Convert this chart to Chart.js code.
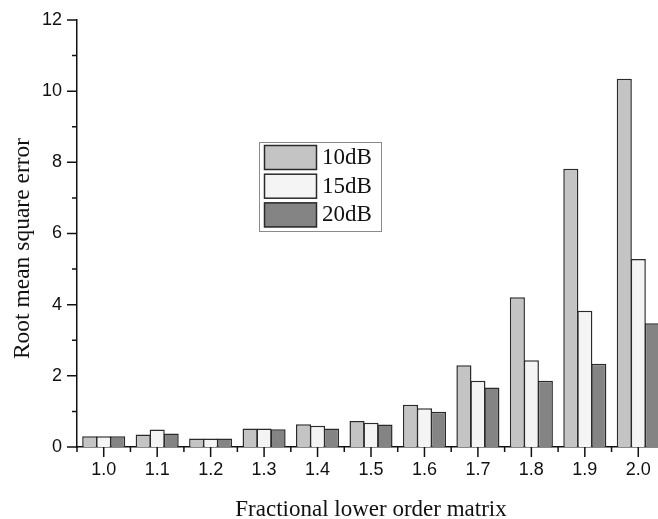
<!DOCTYPE html>
<html>
<head>
<meta charset="utf-8">
<script src="https://cdn.jsdelivr.net/npm/chart.js@4.4.1/dist/chart.umd.min.js"></script>
<style>
  html, body { margin: 0; padding: 0; background: #fff; overflow: hidden; width: 658px; height: 519px; }
  #wrap { position: relative; width: 672px; height: 519px; }
</style>
</head>
<body>
<div id="wrap"><canvas id="c" width="672" height="519"></canvas></div>
<script>
// Fractional lower order values and RMSE per SNR level
const categories = ['1.0', '1.1', '1.2', '1.3', '1.4', '1.5', '1.6', '1.7', '1.8', '1.9', '2.0'];
const seriesNames = ['10dB', '15dB', '20dB'];
const rmse10dB = [0.30, 0.35, 0.24, 0.52, 0.64, 0.73, 1.19, 2.30, 4.21, 7.82, 10.35];
const rmse15dB = [0.30, 0.49, 0.24, 0.52, 0.60, 0.68, 1.09, 1.86, 2.44, 3.83, 5.28];
const rmse20dB = [0.30, 0.38, 0.24, 0.50, 0.52, 0.63, 0.99, 1.67, 1.86, 2.34, 3.48];
const yTickValues = [0, 2, 4, 6, 8, 10, 12];

const fills = ['#c4c4c4', '#f4f4f4', '#848484'];
const edge = '#2a2a2a';
const serifFont = '"Liberation Serif", "Times New Roman", serif';
const sansFont = '"Liberation Sans", Arial, sans-serif';

// Outward tick marks: majors on labelled values / category centres, minors between
const axisTicks = {
  id: 'axisTicks',
  afterDraw(chart) {
    const { ctx, chartArea: a, scales: { x, y } } = chart;
    ctx.save();
    ctx.strokeStyle = '#111';
    ctx.lineWidth = 1.5;
    ctx.beginPath();
    for (let v = y.min; v <= y.max; v++) {
      const py = y.getPixelForValue(v);
      const len = yTickValues.includes(v) ? 10 : 5;
      ctx.moveTo(a.left, py);
      ctx.lineTo(a.left - len, py);
    }
    for (let i = 0; i < categories.length; i++) {
      const px = x.getPixelForValue(i);
      ctx.moveTo(px, a.bottom);
      ctx.lineTo(px, a.bottom + 10);
    }
    for (let i = 0; i <= categories.length; i++) {
      const px = x.getPixelForValue(i - 0.5);
      ctx.moveTo(px, a.bottom);
      ctx.lineTo(px, a.bottom + 5);
    }
    ctx.stroke();
    ctx.restore();
  }
};

// Vertical axis title
const yTitle = {
  id: 'yTitle',
  afterDraw(chart) {
    const { ctx, chartArea: a } = chart;
    ctx.save();
    ctx.translate(23, (a.top + a.bottom) / 2 + 15);
    ctx.rotate(-Math.PI / 2);
    ctx.font = '23.5px ' + serifFont;
    ctx.fillStyle = '#111';
    ctx.textAlign = 'center';
    ctx.textBaseline = 'middle';
    ctx.fillText('Root mean square error', 0, 0);
    ctx.restore();
  }
};

// Boxed legend inside the plot
const boxLegend = {
  id: 'boxLegend',
  afterDraw(chart) {
    const ctx = chart.ctx;
    const left = 259, top = 142, w = 122, h = 89;
    ctx.save();
    ctx.strokeStyle = '#8a8a8a';
    ctx.lineWidth = 1;
    ctx.strokeRect(left + 0.5, top + 0.5, w, h);
    chart.data.datasets.forEach((ds, i) => {
      const sy = top + 3 + i * 28.7;
      ctx.fillStyle = ds.backgroundColor;
      ctx.fillRect(264, sy, 53, 25);
      ctx.strokeStyle = edge;
      ctx.lineWidth = 1.5;
      ctx.strokeRect(264.5, sy + 0.5, 52, 24);
      ctx.fillStyle = '#111';
      ctx.font = '23px ' + serifFont;
      ctx.textAlign = 'left';
      ctx.textBaseline = 'middle';
      ctx.fillText(ds.label, 322, sy + 13);
    });
    ctx.restore();
  }
};

// Bars slightly wider than their slot so neighbours share one edge line
const makeSet = (label, data, i) => ({
  label,
  data,
  backgroundColor: fills[i],
  borderColor: edge,
  borderWidth: 1.5,
  categoryPercentage: 0.785,
  barPercentage: 1.08
});

new Chart(document.getElementById('c'), {
  type: 'bar',
  data: {
    labels: categories,
    datasets: [
      makeSet(seriesNames[0], rmse10dB, 0),
      makeSet(seriesNames[1], rmse15dB, 1),
      makeSet(seriesNames[2], rmse20dB, 2)
    ]
  },
  options: {
    responsive: false,
    animation: false,
    events: [],
    layout: { padding: { top: 20, right: 7, left: 0, bottom: 0 } },
    plugins: { legend: { display: false }, tooltip: { enabled: false } },
    scales: {
      x: {
        offset: true,
        grid: { display: false, drawTicks: false },
        border: { display: true, color: '#111', width: 1.5 },
        ticks: { font: { family: sansFont, size: 18 }, color: '#111', padding: 12, maxRotation: 0, autoSkip: false },
        title: { display: true, text: 'Fractional lower order matrix', font: { family: serifFont, size: 23 }, color: '#111', padding: { top: 6, bottom: -5 } },
        afterFit(s) { s.height = 72; s.paddingLeft = 0; s.paddingRight = 0; }
      },
      y: {
        min: 0,
        max: 12,
        grid: { display: false, drawTicks: false },
        border: { display: true, color: '#111', width: 1.5 },
        ticks: { stepSize: 2, font: { family: sansFont, size: 18 }, color: '#111', padding: 15 },
        afterFit(s) { s.width = 77; s.paddingTop = 0; s.paddingBottom = 0; }
      }
    }
  },
  plugins: [axisTicks, yTitle, boxLegend]
});
</script>
</body>
</html>
